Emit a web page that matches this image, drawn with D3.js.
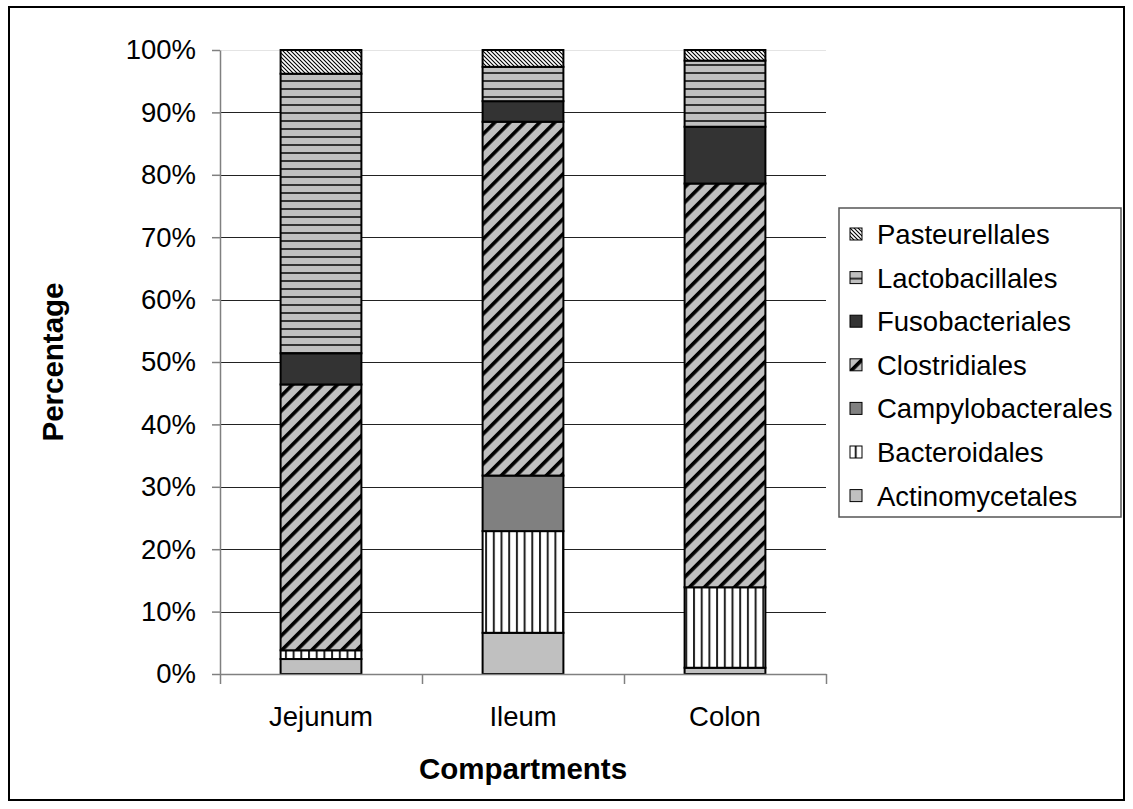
<!DOCTYPE html>
<html>
<head>
<meta charset="utf-8">
<script src="https://cdn.jsdelivr.net/npm/d3@7"></script>
<style>
  body { margin: 0; background: #fff; }
  text { font-family: "Liberation Sans", Arial, sans-serif; }
</style>
</head>
<body>
<svg id="chart" width="1133" height="809"></svg>
<script>
// compartments and order shares (%), bottom of the stack first
var categories = ["Jejunum", "Ileum", "Colon"];
var orders = ["Actinomycetales", "Bacteroidales", "Campylobacterales", "Clostridiales",
              "Fusobacteriales", "Lactobacillales", "Pasteurellales"];
var actinomycetales   = [2.4, 6.6, 1.0];
var bacteroidales     = [1.4, 16.3, 12.9];
var campylobacterales = [0.0, 8.9, 0.0];
var clostridiales     = [42.6, 56.7, 64.7];
var fusobacteriales   = [5.0, 3.3, 9.1];
var lactobacillales   = [44.8, 5.5, 10.6];
var pasteurellales    = [3.8, 2.7, 1.7];
var yTicks = [0, 10, 20, 30, 40, 50, 60, 70, 80, 90, 100];

var series = [actinomycetales, bacteroidales, campylobacterales, clostridiales,
              fusobacteriales, lactobacillales, pasteurellales];

// table for d3.stack
var table = categories.map(function (c, i) {
    var row = { cat: c };
    orders.forEach(function (o, j) { row[o] = series[j][i]; });
    return row;
});

var svg = d3.select("#chart");
// plot area edges (window.top is taken, so own names)
var plotL = 220, plotR = 826, plotT = 50, plotB = 674;

// frame
svg.append("rect")
    .attr("x", 9).attr("y", 7)
    .attr("width", 1115).attr("height", 793)
    .attr("fill", "#fff")
    .attr("stroke", "#000")
    .attr("stroke-width", 2);

//fill patterns
var defs = svg.append("defs");

var p = defs.append("pattern").attr("id", "pat-Pasteurellales")
    .attr("patternUnits", "userSpaceOnUse").attr("width", 4).attr("height", 4);
p.append("rect").attr("width", 4).attr("height", 4).attr("fill", "#fff");
p.append("path").attr("d", "M0,0L4,4M-1,3L1,5M3,-1L5,1")
    .attr("stroke", "#000").attr("stroke-width", 1.1);

p = defs.append("pattern").attr("id", "pat-Lactobacillales")
    .attr("patternUnits", "userSpaceOnUse").attr("width", 8).attr("height", 8);
p.append("rect").attr("width", 8).attr("height", 8).attr("fill", "#c0c0c0");
p.append("rect").attr("width", 8).attr("height", 2).attr("fill", "#333");

p = defs.append("pattern").attr("id", "pat-Clostridiales")
    .attr("patternUnits", "userSpaceOnUse").attr("width", 10.6).attr("height", 10)
    .attr("patternTransform", "rotate(45)");
p.append("rect").attr("width", 10.6).attr("height", 10).attr("fill", "#c0c0c0");
p.append("rect").attr("width", 3.6).attr("height", 10).attr("fill", "#000");

p = defs.append("pattern").attr("id", "pat-Bacteroidales")
    .attr("patternUnits", "userSpaceOnUse").attr("width", 7.7).attr("height", 10);
p.append("rect").attr("width", 7.7).attr("height", 10).attr("fill", "#fff");
p.append("rect").attr("width", 2).attr("height", 10).attr("fill", "#222");

var fills = {
    "Actinomycetales": "#c0c0c0",
    "Bacteroidales": "url(#pat-Bacteroidales)",
    "Campylobacterales": "#808080",
    "Clostridiales": "url(#pat-Clostridiales)",
    "Fusobacteriales": "#333333",
    "Lactobacillales": "url(#pat-Lactobacillales)",
    "Pasteurellales": "url(#pat-Pasteurellales)"
};

var x = d3.scaleBand().domain(categories).range([plotL, plotR])
    .paddingInner(0.6).paddingOuter(0.3);
var y = d3.scaleLinear().domain([0, 100]).range([plotB, plotT]);

// gridlines
svg.append("g").selectAll("line")
    .data(yTicks.filter(function (d) { return d > 0; }))
    .enter().append("line")
    .attr("x1", plotL).attr("x2", plotR)
    .attr("y1", function (d) { return Math.round(y(d)) + 0.5; })
    .attr("y2", function (d) { return Math.round(y(d)) + 0.5; })
    .attr("stroke", function (d) { return d == 100 ? "#e4e4e4" : "#222"; })
    .attr("stroke-width", 1);

// stacked bars
var stacked = d3.stack().keys(orders)(table);
svg.append("g").selectAll("g")
    .data(stacked)
    .enter().append("g")
    .attr("fill", function (d) { return fills[d.key]; })
    .selectAll("rect")
    .data(function (d) { return d.filter(function (s) { return s[1] - s[0] > 0; }); })
    .enter().append("rect")
    .attr("x", function (d) { return x(d.data.cat); })
    .attr("width", x.bandwidth())
    .attr("y", function (d) { return y(d[1]); })
    .attr("height", function (d) { return y(d[0]) - y(d[1]); })
    .attr("stroke", "#000")
    .attr("stroke-width", 2);

// y axis
var yAxis = svg.append("g")
    .attr("transform", "translate(" + plotL + ",0)")
    .call(d3.axisLeft(y).tickValues(yTicks)
        .tickFormat(function (d) { return d + "%"; })
        .tickSize(8).tickPadding(16).tickSizeOuter(0));
yAxis.selectAll("path, line").attr("stroke", "#808080").attr("stroke-width", 1.5);
yAxis.selectAll("text").attr("font-size", 27.5).attr("fill", "#000")
    .style("font-family", "'Liberation Sans', Arial, sans-serif");

// x axis, ticks sit between the compartments
var xb = d3.scaleLinear().domain([0, categories.length]).range([plotL, plotR]);
var xAxis = svg.append("g")
    .attr("transform", "translate(0," + plotB + ")")
    .call(d3.axisBottom(xb).tickValues(d3.range(categories.length + 1))
        .tickFormat("").tickSize(10).tickSizeOuter(0));
xAxis.selectAll("path, line").attr("stroke", "#808080").attr("stroke-width", 1.5);

svg.append("g").selectAll("text")
    .data(categories)
    .enter().append("text")
    .attr("x", function (d) { return x(d) + x.bandwidth() / 2; })
    .attr("y", 726)
    .attr("text-anchor", "middle")
    .attr("font-size", 27.5)
    .text(function (d) { return d; });

// axis titles
svg.append("text")
    .attr("x", (plotL + plotR) / 2).attr("y", 779)
    .attr("text-anchor", "middle")
    .attr("font-size", 29.5).attr("font-weight", "bold")
    .text("Compartments");

svg.append("text")
    .attr("transform", "translate(63," + (plotT + plotB) / 2 + ") rotate(-90)")
    .attr("text-anchor", "middle")
    .attr("font-size", 29.5).attr("font-weight", "bold")
    .text("Percentage");

// legend, top entry is the top of the stack
var legend = svg.append("g");
legend.append("rect")
    .attr("x", 839).attr("y", 208)
    .attr("width", 282).attr("height", 309)
    .attr("fill", "#fff").attr("stroke", "#555").attr("stroke-width", 1.5);

var items = legend.selectAll("g.item")
    .data(orders.slice().reverse())
    .enter().append("g")
    .attr("class", "item")
    .attr("transform", function (d, i) { return "translate(0," + (234 + i * 43.6) + ")"; });
items.append("rect")
    .attr("x", 850).attr("y", -6)
    .attr("width", 12).attr("height", 12)
    .attr("fill", function (d) { return fills[d]; })
    .attr("stroke", "#000").attr("stroke-width", 1);
items.append("text")
    .attr("x", 877).attr("y", 10)
    .attr("font-size", 27.5)
    .text(function (d) { return d; });
</script>
</body>
</html>
